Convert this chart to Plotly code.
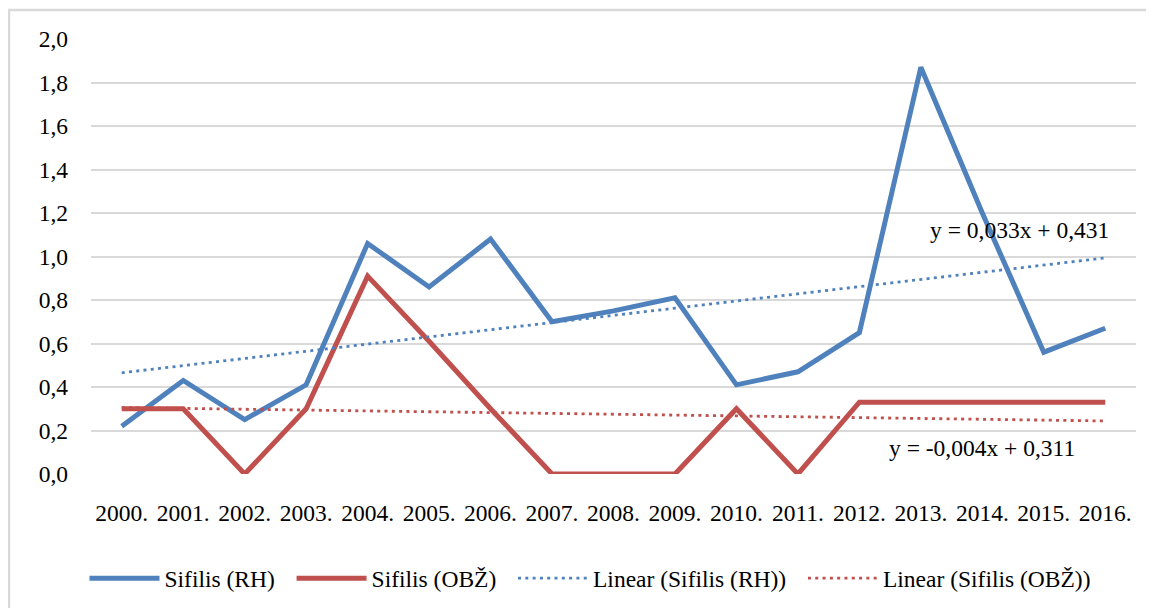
import numpy as np
import plotly.graph_objects as go

years = ["2000.", "2001.", "2002.", "2003.", "2004.", "2005.", "2006.", "2007.", "2008.",
         "2009.", "2010.", "2011.", "2012.", "2013.", "2014.", "2015.", "2016."]
rh = [0.22, 0.43, 0.25, 0.41, 1.06, 0.86, 1.08, 0.70, 0.75, 0.81, 0.41, 0.47, 0.65, 1.87, 1.20, 0.56, 0.67]
obz = [0.30, 0.30, 0.00, 0.30, 0.91, 0.61, 0.30, 0.00, 0.00, 0.00, 0.30, 0.00, 0.33, 0.33, 0.33, 0.33, 0.33]
eq_rh = "y = 0,033x + 0,431"
eq_obz = "y = -0,004x + 0,311"
y_ticks = [0.0, 0.2, 0.4, 0.6, 0.8, 1.0, 1.2, 1.4, 1.6, 1.8, 2.0]

BLUE = "#4F81BD"
RED = "#C0504D"
FONT = "Liberation Serif"
FS = 23.5
GAP = "\u00a0\u00a0"

idx = np.arange(1, len(years) + 1)
k1, b1 = np.polyfit(idx, rh, 1)
k2, b2 = np.polyfit(idx, obz, 1)
trend_rh = k1 * idx + b1
trend_obz = k2 * idx + b2

fig = go.Figure()
fig.add_trace(go.Scatter(x=years, y=rh, mode="lines", name="Sifilis (RH)" + GAP,
                         line=dict(color=BLUE, width=5)))
fig.add_trace(go.Scatter(x=years, y=obz, mode="lines", name="Sifilis (OBŽ)" + GAP,
                         line=dict(color=RED, width=5)))
fig.add_trace(go.Scatter(x=years, y=trend_rh, mode="lines", name="Linear (Sifilis (RH))" + GAP,
                         line=dict(color=BLUE, width=2.8, dash="3px,4.3px")))
fig.add_trace(go.Scatter(x=years, y=trend_obz, mode="lines", name="Linear (Sifilis (OBŽ))",
                         line=dict(color=RED, width=2.8, dash="3px,4.3px")))

fig.add_annotation(x=13, y=1.2, text=eq_rh, showarrow=False, xanchor="left",
                   xshift=7, yshift=-17, font=dict(family=FONT, size=FS, color="black"))
fig.add_annotation(x=12, y=0.12, text=eq_obz, showarrow=False, xanchor="left",
                   xshift=28, yshift=0, font=dict(family=FONT, size=FS, color="black"))

fig.add_shape(type="rect", xref="paper", yref="paper", x0=-0.0785, y0=-0.4, x1=1.05, y1=1.0667,
              line=dict(color="#D9D9D9", width=2.5), fillcolor="rgba(0,0,0,0)", layer="below")

fig.update_layout(
    width=1154, height=608,
    margin=dict(l=83, r=26, t=31, b=142),
    paper_bgcolor="white", plot_bgcolor="white",
    separators=", ",
    font=dict(family=FONT, size=FS, color="black"),
    showlegend=True,
    legend=dict(orientation="h", x=0.4775, xanchor="center", y=-0.24, yanchor="middle",
                font=dict(family=FONT, size=FS, color="black"),
                itemwidth=70, tracegroupgap=0, bgcolor="rgba(0,0,0,0)"),
    xaxis=dict(type="category", range=[-0.5, 16.5], showgrid=False, showline=False,
               zeroline=False, ticks="", ticklabelstandoff=22, automargin=False,
               tickfont=dict(family=FONT, size=FS, color="black")),
    yaxis=dict(range=[0, 2.0], tickvals=y_ticks, tickformat=".1f",
               showgrid=True, gridcolor="#D9D9D9", gridwidth=1.7, automargin=False,
               zeroline=False, showline=False, ticks="", ticklabelstandoff=22,
               tickfont=dict(family=FONT, size=FS, color="black")),
)

fig.write_html("out.html")
